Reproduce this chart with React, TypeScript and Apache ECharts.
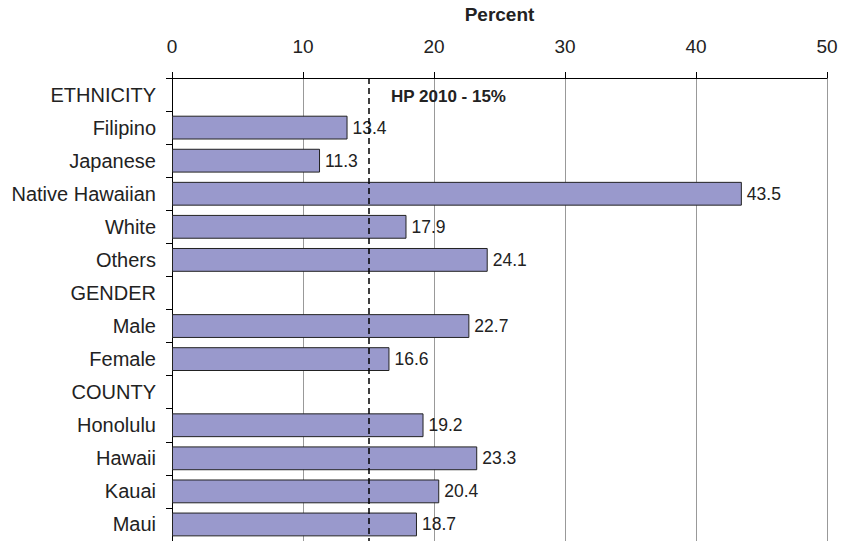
import React, { useEffect, useRef } from "react";
import * as echarts from "echarts";

const categories = [
  "ETHNICITY",
  "Filipino",
  "Japanese",
  "Native Hawaiian",
  "White",
  "Others",
  "GENDER",
  "Male",
  "Female",
  "COUNTY",
  "Honolulu",
  "Hawaii",
  "Kauai",
  "Maui",
];
const values: (number | string)[] = [
  "-", 13.4, 11.3, 43.5, 17.9, 24.1, "-", 22.7, 16.6, "-", 19.2, 23.3, 20.4, 18.7,
];
const targetValue = 15;
const targetLabel = "HP 2010 - 15%";
const xTicks = { min: 0, max: 50, interval: 10 };
const axisTitle = "Percent";

const FONT = "'Liberation Sans', Arial, sans-serif";

export default function App() {
  const ref = useRef<HTMLDivElement>(null);
  useEffect(() => {
    if (!ref.current) return;
    const chart = echarts.init(ref.current, undefined, { renderer: "svg" });
    chart.setOption({
      animation: false,
      backgroundColor: "#ffffff",
      textStyle: { fontFamily: FONT },
      grid: { left: 172, right: 26, top: 75, bottom: 0, containLabel: false },
      xAxis: {
        type: "value",
        position: "top",
        min: xTicks.min,
        max: xTicks.max,
        interval: xTicks.interval,
        name: axisTitle,
        nameLocation: "middle",
        nameGap: 54,
        nameTextStyle: { fontSize: 19, fontWeight: "bold", color: "#222", fontFamily: FONT },
        axisLine: { show: true, lineStyle: { color: "#000", width: 1 } },
        axisTick: { show: true, length: 6, lineStyle: { color: "#000" } },
        axisLabel: { fontSize: 19, color: "#222", margin: 22, fontFamily: FONT },
        splitLine: { show: true, lineStyle: { color: "#999", width: 1 } },
      },
      yAxis: {
        type: "category",
        data: categories,
        inverse: true,
        axisLine: { show: true, lineStyle: { color: "#000", width: 1 } },
        axisTick: { show: true, length: 6, lineStyle: { color: "#000" } },
        axisLabel: { fontSize: 20, color: "#222", margin: 16, fontFamily: FONT },
        splitLine: { show: false },
      },
      series: [
        {
          type: "bar",
          data: values,
          barCategoryGap: "28%",
          itemStyle: { color: "#9999cc", borderColor: "#222", borderWidth: 1 },
          label: {
            show: true,
            position: "right",
            distance: 5,
            fontSize: 17.5,
            color: "#222",
            fontFamily: FONT,
          },
          markLine: {
            silent: true,
            symbol: "none",
            label: { show: false },
            lineStyle: { type: [6, 4], color: "#000", width: 1.5 },
            data: [{ xAxis: targetValue }],
          },
          z: 2,
        },
      ],
      graphic: [
        {
          type: "text",
          left: 391,
          top: 88,
          style: {
            text: targetLabel,
            fontSize: 17,
            fontWeight: "bold",
            fill: "#222",
            fontFamily: FONT,
          },
          z: 10,
        },
      ],
    });
    return () => chart.dispose();
  }, []);
  return (
    <div
      ref={ref}
      style={{ position: "absolute", left: 0, top: 0, width: 853, height: 541 }}
    />
  );
}
